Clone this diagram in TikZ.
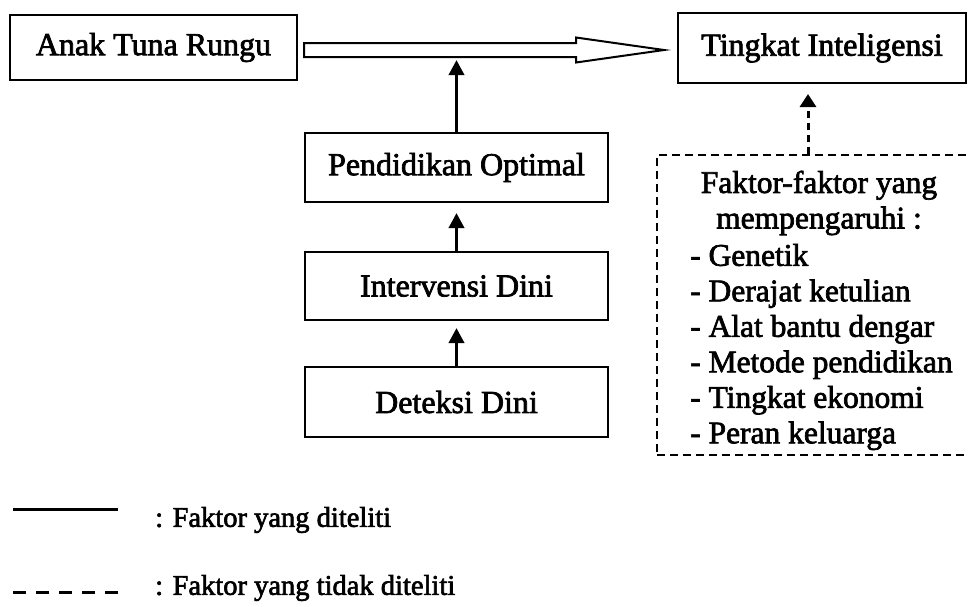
\documentclass[tikz,border=0pt]{standalone}
\usepackage{fontspec}
\setmainfont{Liberation Serif}
\newfontfamily\heavy{Liberation Serif}[FakeBold=2.2]
\usetikzlibrary{arrows.meta,calc}
\begin{document}
\begin{tikzpicture}[x=1pt,y=-1pt,
  box/.style={draw,line width=2pt,inner sep=0pt,font=\heavy\fontsize{32}{36}\selectfont},
  upar/.style={line width=3.5pt,-{Triangle[length=15pt,width=15pt]}},
  dasharr/.style={line width=3pt,dash pattern=on 7pt off 5pt,-{Triangle[length=13pt,width=16pt]}},
  dbox/.style={draw,line width=2.5pt,dash pattern=on 8pt off 5pt},
  txt/.style={inner sep=0pt,font=\heavy\fontsize{31.5}{35.5}\selectfont},
  legtxt/.style={inner sep=0pt,anchor=west,font=\heavy\fontsize{28.5}{32}\selectfont},
  hollow/.style={draw,line width=2pt,line join=miter}]
\clip (0,0) rectangle (968,606);
\fill[white] (0,0) rectangle (968,606);

\node[box,minimum width=287pt,minimum height=65pt] (anak) at (153.5,47.5) {Anak Tuna Rungu};
\node[box,minimum width=288pt,minimum height=70pt] (ting) at (822,48) {Tingkat Inteligensi};
\node[box,minimum width=303pt,minimum height=69pt] (pend) at (456.5,167.5) {Pendidikan Optimal};
\node[box,minimum width=303pt,minimum height=68pt] (inter) at (456.5,286) {Intervensi Dini};
\node[box,minimum width=303pt,minimum height=70pt] (det) at (456.5,402) {Deteksi Dini};

\node[dbox,minimum width=323pt,minimum height=300pt] (fbox) at (818.5,305) {};
\node[txt,align=center] (head) at (819,203) {Faktor-faktor yang\\mempengaruhi :};
\node[txt,align=left,anchor=west] (list) at (690,347) {- Genetik\\- Derajat ketulian\\- Alat bantu dengar\\- Metode pendidikan\\- Tingkat ekonomi\\- Peran keluarga};

% hollow arrow
\coordinate (hs) at ($(anak.east)+(6,2.5)$);
\coordinate (ht) at ($(ting.west)+(-13,2)$);
\draw[hollow] ($(hs)+(0,-7)$) -- ($(ht)+(-88,-7)$) -- ($(ht)+(-88,-12.5)$) -- (ht)
  -- ($(ht)+(-88,12.5)$) -- ($(ht)+(-88,7)$) -- ($(hs)+(0,7)$) -- cycle;

% solid arrows
\coordinate (sb) at ($(pend.north |- hs)+(0,7)$);
\draw[upar,shorten >=3pt] (pend.north) -- (sb);
\draw[upar,shorten >=10pt] (inter.north) -- (pend.south);
\draw[upar,shorten >=7pt] (det.north) -- (inter.south);

% dashed arrow
\coordinate (fa) at ($(fbox.north)+(-10.5,0)$);
\draw[dasharr,shorten >=10pt] (fa) -- (fa |- ting.south);

% legend
\coordinate (s1) at (13,509); \coordinate (e1) at (118,509);
\draw[line width=3pt] (s1) -- (e1);
\coordinate (s2) at (13,592); \coordinate (e2) at (118,592);
\draw[line width=3pt,dash pattern=on 13pt off 10pt] (s2) -- (e2);
\node[legtxt] (lg1) at (155,520) {: Faktor yang diteliti};
\node[legtxt] (lg2) at (155,588) {: Faktor yang tidak diteliti};
\end{tikzpicture}
\end{document}
